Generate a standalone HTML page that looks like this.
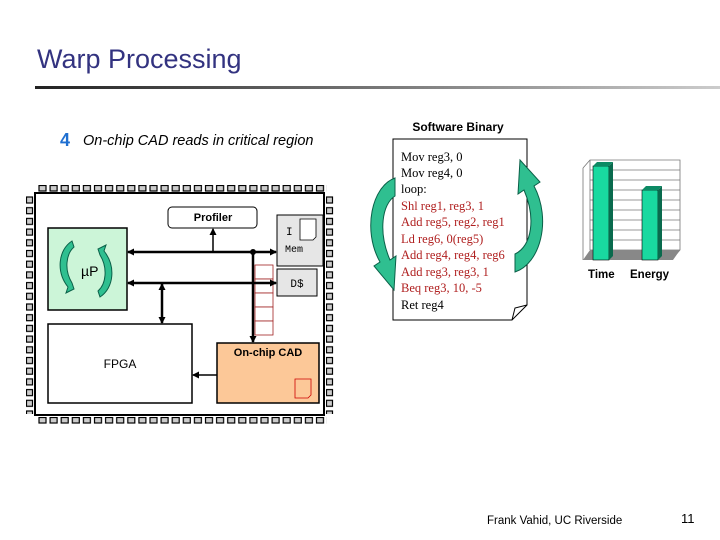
<!DOCTYPE html>
<html><head><meta charset="utf-8"><style>
html,body{margin:0;padding:0;background:#fff;}
svg{display:block;}
</style></head><body>
<svg width="720" height="540" viewBox="0 0 720 540" xmlns="http://www.w3.org/2000/svg">
<defs>
<linearGradient id="hr" x1="0" x2="1"><stop offset="0" stop-color="#222"/><stop offset="1" stop-color="#ccc"/></linearGradient>
<marker id="ah" markerWidth="7" markerHeight="7" refX="6" refY="3.5" orient="auto-start-reverse" markerUnits="userSpaceOnUse"><path d="M0,0 L7,3.5 L0,7 z" fill="#000"/></marker>
<pattern id="pinh" x="38" y="185" width="11.1" height="7" patternUnits="userSpaceOnUse"><rect x="1" y="0.5" width="7" height="5.5" fill="#ccc" stroke="#000" stroke-width="1.2"/></pattern>
<pattern id="pinh2" x="38" y="417" width="11.1" height="7" patternUnits="userSpaceOnUse"><rect x="1" y="0.5" width="7" height="5.5" fill="#ccc" stroke="#000" stroke-width="1.2"/></pattern>
<pattern id="pinv" x="26" y="196" width="8" height="10.7" patternUnits="userSpaceOnUse"><rect x="0.5" y="1" width="6" height="6" fill="#ccc" stroke="#000" stroke-width="1.2"/></pattern>
<pattern id="pinv2" x="326" y="196" width="8" height="10.7" patternUnits="userSpaceOnUse"><rect x="0.5" y="1" width="6" height="6" fill="#ccc" stroke="#000" stroke-width="1.2"/></pattern>
</defs>
<text x="37" y="68" font-family="Liberation Sans, sans-serif" font-size="27" fill="#333380">Warp Processing</text>
<rect x="35" y="86" width="685" height="3" fill="url(#hr)"/>
<text x="60" y="146" font-family="Liberation Sans, sans-serif" font-size="18" font-weight="bold" fill="#1f6fd0">4</text>
<text x="83" y="145" font-family="Liberation Sans, sans-serif" font-size="14.5" font-style="italic" fill="#000">On-chip CAD reads in critical region</text>

<!-- chip pins -->
<rect x="38" y="185" width="289" height="7" fill="url(#pinh)"/>
<rect x="38" y="417" width="289" height="7" fill="url(#pinh2)"/>
<rect x="26" y="196" width="8" height="218" fill="url(#pinv)"/>
<rect x="326" y="196" width="8" height="218" fill="url(#pinv2)"/>
<rect x="35" y="193" width="289" height="222" fill="#fff" stroke="#000" stroke-width="2"/>

<!-- uP -->
<rect x="48" y="228" width="79" height="82" fill="#ccf5d8" stroke="#000" stroke-width="1.5"/>
<path d="M72,241 C58,250 56,272 68,287 L66,293 L74,289 L72,283 C64,270 66,254 74,247 Z" fill="#2fbf90" stroke="#0a6048" stroke-width="1"/>
<path d="M100,297 C114,288 116,266 104,251 L106,245 L98,249 L100,255 C108,268 106,284 98,291 Z" fill="#2fbf90" stroke="#0a6048" stroke-width="1"/>
<text x="81" y="276" font-family="Liberation Sans, sans-serif" font-size="14" fill="#000">µP</text>

<!-- profiler -->
<rect x="168" y="207" width="89" height="21" rx="4" fill="#fff" stroke="#000"/>
<text x="213" y="221" text-anchor="middle" font-family="Liberation Sans, sans-serif" font-size="11" font-weight="bold">Profiler</text>
<!-- I Mem -->
<rect x="277" y="215" width="46" height="51" fill="#e6e6e6" stroke="#000"/>
<path d="M300,219 h16 v18 l-3,3 h-13 z" fill="#fff" stroke="#000" stroke-width="0.8"/>
<text x="286" y="235" font-family="Liberation Mono, monospace" font-size="11">I</text>
<text x="285" y="252" font-family="Liberation Mono, monospace" font-size="10">Mem</text>
<!-- D$ -->
<rect x="277" y="269" width="40" height="27" fill="#e6e6e6" stroke="#000"/>
<text x="297" y="287" text-anchor="middle" font-family="Liberation Mono, monospace" font-size="11">D$</text>
<!-- FPGA -->
<rect x="48" y="324" width="144" height="79" fill="#fff" stroke="#000" stroke-width="1.5"/>
<text x="120" y="368" text-anchor="middle" font-family="Liberation Sans, sans-serif" font-size="12">FPGA</text>
<!-- CAD -->
<rect x="217" y="343" width="102" height="60" fill="#fcc898" stroke="#000" stroke-width="1.5"/>
<text x="268" y="356" text-anchor="middle" font-family="Liberation Sans, sans-serif" font-size="11" font-weight="bold">On-chip CAD</text>
<path d="M295,379 h16 v16 l-3,3 h-13 z" fill="#fcc898" stroke="#c00" stroke-width="0.8"/>
<!-- red stack -->
<g fill="#fff" stroke="#a02020" stroke-width="0.8">
<rect x="255" y="265" width="18" height="14"/><rect x="255" y="279" width="18" height="14"/><rect x="255" y="293" width="18" height="14"/><rect x="255" y="307" width="18" height="14"/><rect x="255" y="321" width="18" height="14"/>
</g>
<!-- buses -->
<g stroke="#000" stroke-width="2.5" fill="none">
<line x1="128" y1="252" x2="276" y2="252" marker-start="url(#ah)" marker-end="url(#ah)"/>
<line x1="128" y1="283" x2="276" y2="283" marker-start="url(#ah)" marker-end="url(#ah)"/>
<line x1="162" y1="284" x2="162" y2="323" marker-start="url(#ah)" marker-end="url(#ah)"/>
<line x1="253" y1="252" x2="253" y2="342" marker-end="url(#ah)"/>
</g>
<line x1="213" y1="252" x2="213" y2="229" stroke="#000" stroke-width="1.5" marker-end="url(#ah)"/>
<line x1="217" y1="375" x2="193" y2="375" stroke="#000" stroke-width="1.5" marker-end="url(#ah)"/>
<circle cx="253" cy="252" r="3"/>

<!-- software binary -->
<text x="458" y="131" text-anchor="middle" font-family="Liberation Sans, sans-serif" font-size="12" font-weight="bold">Software Binary</text>
<path d="M393,139 H527 V305 L512,320 H393 Z" fill="#fff" stroke="#000"/>
<path d="M512,320 L515,308 L527,305" fill="none" stroke="#000"/>
<g font-family="Liberation Serif, serif" font-size="12.5">
<text x="401" y="161">Mov reg3, 0</text>
<text x="401" y="177">Mov reg4, 0</text>
<text x="401" y="193">loop:</text>
<g fill="#b02020">
<text x="401" y="210">Shl reg1, reg3, 1</text>
<text x="401" y="226">Add reg5, reg2, reg1</text>
<text x="401" y="243">Ld reg6, 0(reg5)</text>
<text x="401" y="259">Add reg4, reg4, reg6</text>
<text x="401" y="276">Add reg3, reg3, 1</text>
<text x="401" y="292">Beq reg3, 10, -5</text>
</g>
<text x="401" y="309">Ret reg4</text>
</g>
<!-- curved arrows -->
<path d="M395,178 C372,186 362,230 380,262 L374,266 L394,290 L396,256 L390,260 C378,232 382,204 395,196 Z" fill="#2fbf90" stroke="#0a6048" stroke-width="1"/>
<path d="M515,272 C540,264 552,220 534,186 L540,182 L520,160 L518,194 L524,190 C536,218 532,246 515,254 Z" fill="#2fbf90" stroke="#0a6048" stroke-width="1"/>

<!-- chart -->
<g stroke="#777" stroke-width="0.8">
<path d="M583,168 L590,160 H680 V250 L673,258" fill="none"/>
<line x1="590" y1="170" x2="680" y2="170"/><line x1="590" y1="180" x2="680" y2="180"/><line x1="590" y1="190" x2="680" y2="190"/><line x1="590" y1="200" x2="680" y2="200"/><line x1="590" y1="210" x2="680" y2="210"/><line x1="590" y1="220" x2="680" y2="220"/><line x1="590" y1="230" x2="680" y2="230"/><line x1="590" y1="240" x2="680" y2="240"/><line x1="590" y1="250" x2="680" y2="250"/>
<line x1="583" y1="168" x2="583" y2="260"/>
<line x1="590" y1="160" x2="590" y2="250"/>
</g>
<path d="M583,260 L590,250 H680 L673,260 Z" fill="#888"/>
<rect x="593" y="166" width="16" height="94" fill="#19d9a0" stroke="#000" stroke-width="0.6"/>
<path d="M593,166 L597,162 H613 L609,166 Z" fill="#0c8a64"/>
<path d="M609,166 L613,162 V256 L609,260 Z" fill="#0a6a4d"/>
<rect x="642" y="190" width="16" height="70" fill="#19d9a0" stroke="#000" stroke-width="0.6"/>
<path d="M642,190 L646,186 H662 L658,190 Z" fill="#0c8a64"/>
<path d="M658,190 L662,186 V256 L658,260 Z" fill="#0a6a4d"/>
<text x="588" y="278" font-family="Liberation Sans, sans-serif" font-size="11.5" font-weight="bold">Time</text>
<text x="630" y="278" font-family="Liberation Sans, sans-serif" font-size="11.5" font-weight="bold">Energy</text>

<text x="487" y="524" font-family="Liberation Sans, sans-serif" font-size="11.5">Frank Vahid, UC Riverside</text>
<text x="681" y="523" font-family="Liberation Sans, sans-serif" font-size="13">11</text>
</svg>
</body></html>
